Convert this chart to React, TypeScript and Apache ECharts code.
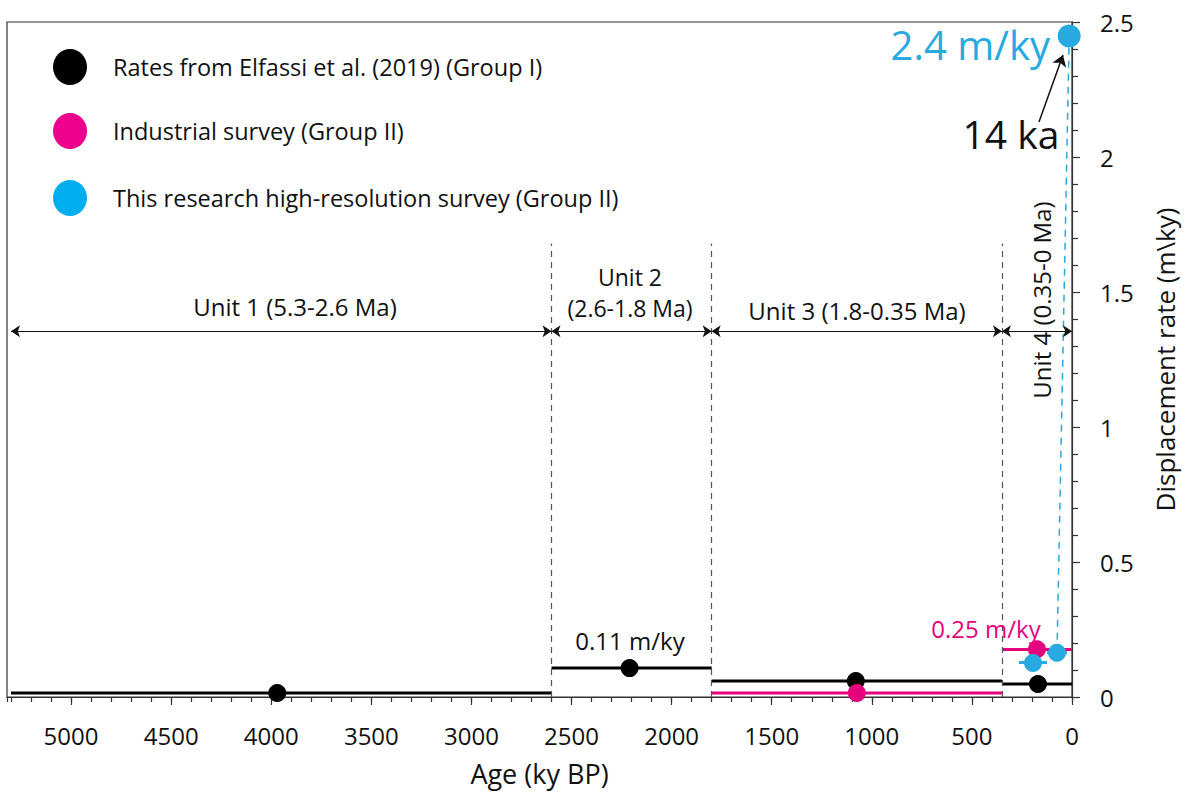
import React, { useEffect, useRef } from "react";
import * as echarts from "echarts";

const FONT = '"Open Sans", "Noto Sans", sans-serif';
const BLACK = "#000000";
const PINK = "#e5007d";
const BLUE = "#27aae1";

// Age (ky BP) boundaries between stratigraphic units
const unitBoundaries = [2600, 1800, 350];
const boundaryTop = 1.68;
// Unit age ranges [older, younger] and arrow level
const unitRanges = [
  [5300, 2600],
  [2600, 1800],
  [1800, 350],
  [350, 0],
];
const arrowLevel = 1.355;

// Group I (Elfassi et al. 2019): [from, to, rate]
const groupISegments = [
  [5300, 2600, 0.015],
  [2600, 1800, 0.107],
  [1800, 350, 0.059],
  [350, 0, 0.048],
];
const groupIPoints = [
  [3970, 0.015],
  [2210, 0.107],
  [1080, 0.059],
  [170, 0.048],
];

// Industrial survey (Group II)
const industrialSegments = [
  [1800, 350, 0.015],
  [350, 0, 0.176],
];
const industrialPoints = [
  [1075, 0.015],
  [175, 0.177],
];

// High-resolution survey (Group II)
const hiresSegments = [
  [265, 125, 0.128],
  [125, 25, 0.164],
];
const hiresPoints = [
  [195, 0.126],
  [75, 0.164],
  [14, 2.448],
];

// annotation arrow "14 ka" [age, rate] tail -> head
const kaArrow = [
  [165, 2.13],
  [45, 2.378],
];

const xTicks = [0, 500, 1000, 1500, 2000, 2500, 3000, 3500, 4000, 4500, 5000];

const legendItems = [
  { name: "Rates from Elfassi et al. (2019) (Group I)", color: "#000000" },
  { name: "Industrial survey (Group II)", color: "#ec008c" },
  { name: "This research high-resolution survey (Group II)", color: "#00aeef" },
];

function segSeries(segs: number[][], color: string, name: string) {
  return segs.map((s, i) => ({
    type: "line",
    name: name + "-seg" + i,
    data: [
      [s[0], s[2]],
      [s[1], s[2]],
    ],
    symbol: "none",
    lineStyle: { color, width: 3 },
    silent: true,
    z: 3,
  }));
}

export default function App() {
  const ref = useRef<HTMLDivElement>(null);
  useEffect(() => {
    if (!ref.current) return;
    const chart = echarts.init(ref.current, null, { renderer: "svg" });
    const txt = (text: string, x: number, y: number, opts: any = {}) => ({
      type: "text",
      x,
      y,
      rotation: opts.rotation || 0,
      z: 50,
      style: {
        text,
        fill: opts.fill || "#111",
        fontSize: opts.fontSize || 24,
        fontFamily: FONT,
        align: opts.align || "center",
        verticalAlign: "middle",
      },
    });
    const legendGraphic: any[] = [];
    const legendY = [67, 131, 198];
    legendItems.forEach((it, i) => {
      legendGraphic.push({
        type: "ellipse",
        shape: { cx: 70, cy: legendY[i], rx: 17, ry: 18 },
        style: { fill: it.color },
        z: 50,
      });
      legendGraphic.push(txt(it.name, 113, legendY[i], { align: "left", fontSize: 23.5 }));
    });

    const option: any = {
      animation: false,
      textStyle: { fontFamily: FONT },
      grid: { left: 7, right: 118, top: 22, bottom: 98, show: true, borderColor: "#333", borderWidth: 1.2 },
      xAxis: [
        {
          type: "value",
          inverse: true,
          min: 0,
          max: 5320,
          interval: 500,
          position: "bottom",
          axisLine: { show: true, lineStyle: { color: "#333", width: 1.2 } },
          axisTick: {
            show: true,
            length: 8,
            lineStyle: { color: "#333", width: 1.2 },
            customValues: xTicks,
          },
          axisLabel: {
            fontSize: 24,
            color: "#111",
            margin: 26,
            customValues: xTicks,
            formatter: (v: number) => String(v),
          },
          splitLine: { show: false },
          name: "Age (ky BP)",
          nameLocation: "middle",
          nameGap: 63,
          nameTextStyle: { fontSize: 27, color: "#111" },
        },
        {
          type: "value",
          inverse: true,
          min: 0,
          max: 5320,
          interval: 100,
          position: "bottom",
          axisLine: { show: false },
          axisTick: { show: true, length: 5, lineStyle: { color: "#333", width: 1.2 } },
          axisLabel: { show: false },
          splitLine: { show: false },
        },
      ],
      yAxis: {
        type: "value",
        position: "right",
        min: 0,
        max: 2.5,
        interval: 0.5,
        axisLine: { show: true, lineStyle: { color: "#333", width: 1.2 } },
        axisTick: { show: true, length: 8, lineStyle: { color: "#333", width: 1.2 } },
        minorTick: { show: true, splitNumber: 5, length: 6, lineStyle: { color: "#333", width: 1.2 } },
        axisLabel: { fontSize: 24, color: "#111", margin: 28 },
        splitLine: { show: false },
        name: "Displacement rate (m\\ky)",
        nameLocation: "middle",
        nameRotate: 90,
        nameGap: 80,
        nameTextStyle: { fontSize: 26, color: "#111" },
      },
      series: [
        {
          type: "line",
          name: "boundaries",
          data: [],
          silent: true,
          markLine: {
            silent: true,
            symbol: "none",
            label: { show: false },
            lineStyle: { color: "#555", type: [6, 5], width: 1.2 },
            data: unitBoundaries.map((b) => [{ coord: [b, 0] }, { coord: [b, boundaryTop] }]),
          },
        },
        {
          type: "line",
          name: "units",
          data: [],
          silent: true,
          markLine: {
            silent: true,
            symbol: ["arrow", "arrow"],
            symbolSize: 9,
            label: { show: false },
            lineStyle: { color: "#111", type: "solid", width: 1.2 },
            data: unitRanges.map((r) => [{ coord: [r[0], arrowLevel] }, { coord: [r[1], arrowLevel] }]),
          },
        },
        ...segSeries(groupISegments, BLACK, "g1"),
        ...segSeries(industrialSegments, PINK, "ind"),
        ...segSeries(hiresSegments, BLUE, "hr"),
        {
          type: "line",
          name: "hr-link",
          data: [hiresPoints[1], hiresPoints[2]],
          symbol: "none",
          lineStyle: { color: BLUE, width: 1.5, type: [7, 6] },
          silent: true,
          z: 2,
          markLine: {
            silent: true,
            symbol: ["none", "arrow"],
            symbolSize: 11,
            label: { show: false },
            lineStyle: { color: "#111", type: "solid", width: 1.5 },
            data: [[{ coord: kaArrow[0] }, { coord: kaArrow[1] }]],
          },
        },
        {
          type: "scatter",
          name: legendItems[0].name,
          data: groupIPoints,
          symbolSize: 18,
          itemStyle: { color: BLACK, opacity: 1 },
          z: 5,
        },
        {
          type: "scatter",
          name: legendItems[1].name,
          data: industrialPoints,
          symbolSize: 18,
          itemStyle: { color: PINK, opacity: 1 },
          z: 5,
        },
        {
          type: "scatter",
          name: legendItems[2].name,
          data: hiresPoints,
          symbolSize: (v: number[]) => (v[1] > 1 ? 23 : 18),
          itemStyle: { color: BLUE, opacity: 1 },
          z: 5,
        },
      ],
      graphic: [
        ...legendGraphic,
        txt("Unit 1 (5.3-2.6 Ma)", 295, 306),
        txt("Unit 2", 630, 277, { fontSize: 23 }),
        txt("(2.6-1.8 Ma)", 630, 308, { fontSize: 23 }),
        txt("Unit 3 (1.8-0.35 Ma)", 857, 310),
        txt("Unit 4 (0.35-0 Ma)", 1041, 300, { rotation: Math.PI / 2 }),
        txt("0.11 m/ky", 630, 640),
        txt("0.25 m/ky", 986, 628, { fill: PINK }),
        txt("2.4 m/ky", 1050, 44, { fill: BLUE, fontSize: 40, align: "right" }),
        txt("14 ka", 1011, 133, { fontSize: 39 }),
      ],
    };
    chart.setOption(option);
    return () => chart.dispose();
  }, []);
  return (
    <div
      ref={ref}
      style={{ position: "fixed", left: 0, top: 0, width: 1190, height: 795, background: "#fff" }}
    />
  );
}
